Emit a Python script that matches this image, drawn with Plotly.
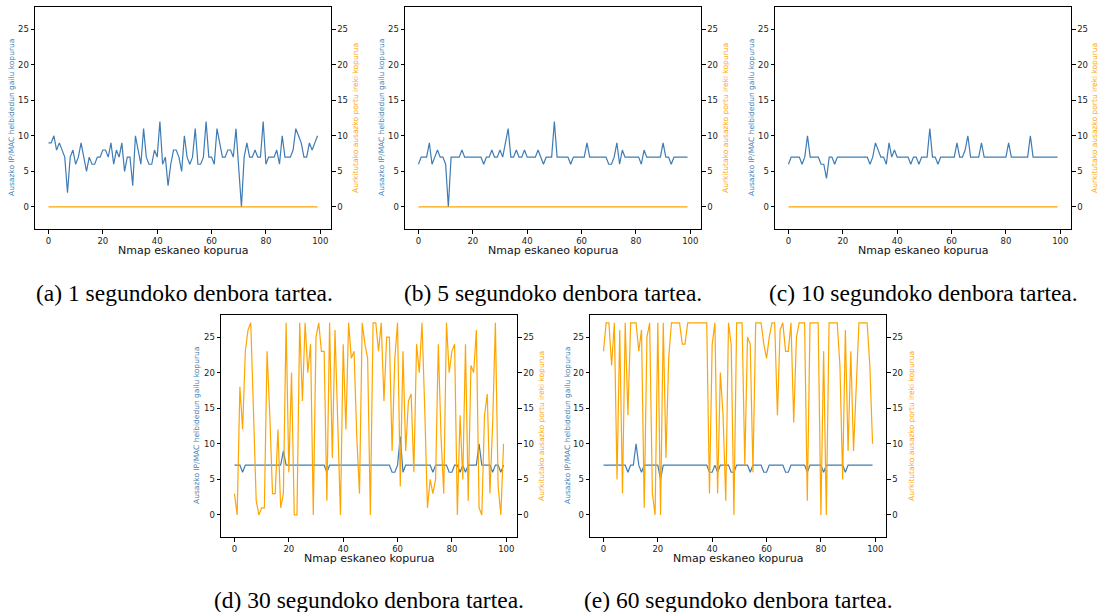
import plotly.graph_objects as go

W, H = 1099, 612

# x categories: Nmap scan number
scan = list(range(100))

# (a) 1 s interval
devices_1s = [9,9,10,8,9,8,7,2,7,8, 6,7,9,7,5,7,6,6,7,7,
              8,8,7,9,6,8,7,9,5,7, 7,3,10,8,6,11,7,6,6,8,
              7,12,6,7,3,6,8,8,7,5, 10,7,6,7,11,6,6,7,12,7,
              7,6,11,9,7,7,8,8,7,11, 6,0,7,9,7,7,8,7,7,12,
              6,7,7,7,8,6,10,7,7,7, 8,11,10,9,7,7,9,8,9,10]
ports_1s = [0,0,0,0,0,0,0,0,0,0, 0,0,0,0,0,0,0,0,0,0,
            0,0,0,0,0,0,0,0,0,0, 0,0,0,0,0,0,0,0,0,0,
            0,0,0,0,0,0,0,0,0,0, 0,0,0,0,0,0,0,0,0,0,
            0,0,0,0,0,0,0,0,0,0, 0,0,0,0,0,0,0,0,0,0,
            0,0,0,0,0,0,0,0,0,0, 0,0,0,0,0,0,0,0,0,0]

# (b) 5 s interval
devices_5s = [6,7,7,7,9,6,7,8,7,7, 6,0,7,7,7,7,8,7,7,7,
              7,7,7,7,6,7,7,8,7,7, 8,7,9,11,7,7,8,7,7,8,
              7,7,7,7,8,7,6,7,7,7, 12,7,7,7,7,7,6,7,7,7,
              7,7,9,7,7,7,7,7,7,7, 6,6,7,9,6,8,7,7,7,7,
              7,7,6,8,7,7,7,7,7,7, 9,7,7,6,7,7,7,7,7,7]
ports_5s = [0,0,0,0,0,0,0,0,0,0, 0,0,0,0,0,0,0,0,0,0,
            0,0,0,0,0,0,0,0,0,0, 0,0,0,0,0,0,0,0,0,0,
            0,0,0,0,0,0,0,0,0,0, 0,0,0,0,0,0,0,0,0,0,
            0,0,0,0,0,0,0,0,0,0, 0,0,0,0,0,0,0,0,0,0,
            0,0,0,0,0,0,0,0,0,0, 0,0,0,0,0,0,0,0,0,0]

# (c) 10 s interval
devices_10s = [6,7,7,7,7,6,7,10,7,7, 7,7,6,6,4,7,7,6,7,7,
               7,7,7,7,7,7,7,7,7,7, 6,7,9,8,7,7,6,9,7,8,
               7,7,7,7,7,6,7,7,6,7, 7,7,11,7,7,6,7,7,7,7,
               7,7,9,7,7,8,10,7,7,7, 7,9,7,7,7,7,7,7,7,7,
               7,9,7,7,7,7,7,7,7,10, 7,7,7,7,7,7,7,7,7,7]
ports_10s = [0,0,0,0,0,0,0,0,0,0, 0,0,0,0,0,0,0,0,0,0,
             0,0,0,0,0,0,0,0,0,0, 0,0,0,0,0,0,0,0,0,0,
             0,0,0,0,0,0,0,0,0,0, 0,0,0,0,0,0,0,0,0,0,
             0,0,0,0,0,0,0,0,0,0, 0,0,0,0,0,0,0,0,0,0,
             0,0,0,0,0,0,0,0,0,0, 0,0,0,0,0,0,0,0,0,0]

# (d) 30 s interval
devices_30s = [7,7,7,6,7,7,7,7,7,7, 7,7,7,7,7,7,7,7,9,7,
               7,7,7,7,7,7,7,7,7,7, 7,7,7,7,6,7,7,7,7,7,
               7,7,7,7,7,7,7,7,7,7, 7,7,7,7,7,7,7,7,6,6,
               7,11,6,7,7,7,7,7,7,7, 7,7,7,6,7,7,7,7,7,6,
               6,7,7,6,7,6,7,7,7,7, 10,7,7,7,7,6,7,7,6,7]
ports_30s = [3,0,18,12,23,26,27,15,2,0, 1,1,23,14,3,3,12,1,3,27,
             6,20,0,0,27,16,27,20,24,0, 25,27,23,23,2,27,8,26,11,0,
             24,12,27,22,23,11,3,27,24,22, 0,27,27,23,27,16,25,25,9,22,
             27,4,23,9,16,17,6,24,20,27, 15,1,5,3,5,24,11,3,27,20,
             23,24,0,14,5,24,2,21,20,26, 1,0,14,17,3,13,27,4,0,10]

# (e) 60 s interval
devices_60s = [7,7,7,7,7,7,7,7,7,6, 7,7,10,7,6,7,7,7,7,7,
               7,5,7,7,7,7,7,7,7,7, 7,7,7,7,7,7,7,7,7,6,
               6,7,6,7,7,7,7,6,6,7, 7,7,7,7,6,7,7,7,7,6,
               6,7,7,7,7,7,7,6,6,7, 7,7,7,7,7,6,7,7,7,7,
               7,6,7,7,7,7,7,7,7,6, 7,7,7,7,7,7,7,7,7,7]
ports_60s = [23,27,27,21,27,5,26,3,27,14, 27,27,27,23,26,1,25,27,3,0,
             27,0,27,8,22,27,27,27,27,24, 24,27,27,27,27,27,27,27,27,3,
             24,27,3,20,14,2,27,24,0,27, 27,27,7,25,24,6,27,27,27,24,
             22,25,27,27,14,26,27,23,23,27, 13,25,27,27,27,2,27,27,27,27,
             0,23,0,27,27,27,27,21,5,26, 9,23,9,18,27,27,27,27,21,10]

captions = ["(a) 1 segundoko denbora tartea.",
            "(b) 5 segundoko denbora tartea.",
            "(c) 10 segundoko denbora tartea.",
            "(d) 30 segundoko denbora tartea.",
            "(e) 60 segundoko denbora tartea."]
x_title = "Nmap eskaneo kopurua"
left_title = "Ausazko IP/MAC helbidedun gailu kopurua"
right_title = "Aurkitutako ausazko portu ireki kopurua"
x_ticks = [0, 20, 40, 60, 80, 100]
y_ticks = [0, 5, 10, 15, 20, 25]

series = [(devices_1s, ports_1s), (devices_5s, ports_5s), (devices_10s, ports_10s),
          (devices_30s, ports_30s), (devices_60s, ports_60s)]

# layout: plot box in pixels (left, right, top, bottom), label positions
boxes = [(35, 331, 7, 229), (405, 701, 7, 229), (775, 1071, 7, 229),
         (221, 517, 315, 537), (590, 886, 315, 537)]
left_title_x = [12, 382, 752, 196, 567]
right_title_x = [356, 726, 1095, 541, 911]
caption_pos = [(184, 293), (553, 293), (923, 293), (369, 600), (738, 600)]
xtitle_y = [250, 250, 250, 558, 558]

BLUE = "#3f7cb4"
ORANGE = "#ffa500"
TICKFONT = dict(family="DejaVu Sans", size=8.5, color="#222222")

fig = go.Figure()
layout = dict(width=W, height=H, margin=dict(l=0, r=0, t=0, b=0),
              paper_bgcolor="white", plot_bgcolor="white", showlegend=False)
annotations = []

def px(x):
    return x / W

def py(y):
    return 1 - y / H

for i, ((dev, ports), (l, r, t, b)) in enumerate(zip(series, boxes), start=1):
    xname = "x" if i == 1 else f"x{i}"
    xkey = "xaxis" if i == 1 else f"xaxis{i}"
    yl, yr = 2 * i - 1, 2 * i
    ylname = "y" if yl == 1 else f"y{yl}"
    ylkey = "yaxis" if yl == 1 else f"yaxis{yl}"
    yrname = f"y{yr}"
    yrkey = f"yaxis{yr}"

    fig.add_trace(go.Scatter(x=scan, y=dev, mode="lines", xaxis=xname, yaxis=ylname,
                             line=dict(color=BLUE, width=1.2)))
    fig.add_trace(go.Scatter(x=scan, y=ports, mode="lines", xaxis=xname, yaxis=yrname,
                             line=dict(color=ORANGE, width=1.2)))

    common = dict(showline=True, linecolor="black", linewidth=1, ticks="outside",
                  ticklen=3.5, tickwidth=1, tickcolor="black", showgrid=False,
                  zeroline=False, tickfont=TICKFONT)
    layout[xkey] = dict(domain=[px(l), px(r)], range=[-4.95, 103.95], tickvals=x_ticks,
                        anchor=ylname, mirror=True, **common)
    layout[ylkey] = dict(domain=[py(b), py(t)], range=[-3.1, 28.1], tickvals=y_ticks,
                         anchor=xname, side="left", **common)
    layout[yrkey] = dict(range=[-3.1, 28.1], tickvals=y_ticks, anchor=xname,
                         overlaying=ylname, side="right", **common)

    cy = (t + b) / 2
    annotations.append(dict(text=left_title, x=px(left_title_x[i - 1]), y=py(cy),
                            xref="paper", yref="paper", showarrow=False, textangle=-90,
                            xanchor="center", yanchor="middle",
                            font=dict(family="DejaVu Sans", size=7.5, color="#4682b4")))
    annotations.append(dict(text=right_title, x=px(right_title_x[i - 1]), y=py(cy),
                            xref="paper", yref="paper", showarrow=False, textangle=-90,
                            xanchor="center", yanchor="middle",
                            font=dict(family="DejaVu Sans", size=7.5, color=ORANGE)))
    annotations.append(dict(text=x_title, x=px((l + r) / 2), y=py(xtitle_y[i - 1]),
                            xref="paper", yref="paper", showarrow=False,
                            xanchor="center", yanchor="middle",
                            font=dict(family="DejaVu Sans", size=11, color="#111111")))
    cx, cyy = caption_pos[i - 1]
    annotations.append(dict(text=captions[i - 1], x=px(cx), y=py(cyy),
                            xref="paper", yref="paper", showarrow=False,
                            xanchor="center", yanchor="middle",
                            font=dict(family="Liberation Serif", size=23.5, color="black")))

layout["annotations"] = annotations
fig.update_layout(**layout)
fig.write_html("out.html", config={"displayModeBar": False},
               post_script="document.body.style.margin='0';document.body.style.overflow='hidden';")
